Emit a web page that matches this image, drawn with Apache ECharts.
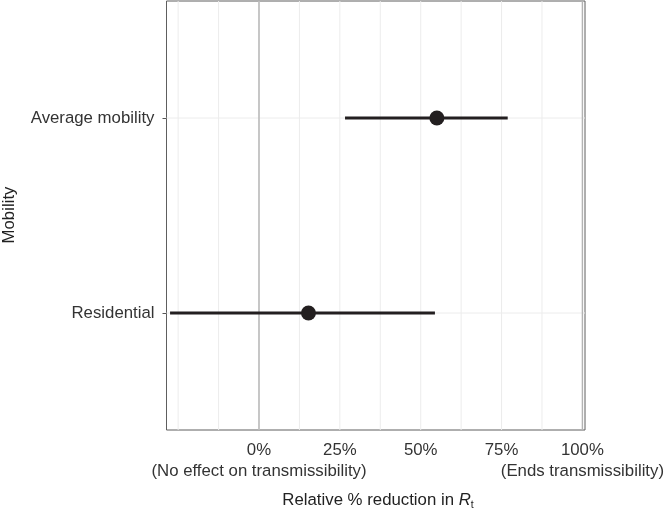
<!DOCTYPE html>
<html>
<head>
<meta charset="utf-8">
<script src="https://cdn.jsdelivr.net/npm/echarts@6/dist/echarts.min.js"></script>
<style>html,body{margin:0;padding:0;background:#fff}#c{width:664px;height:513px}</style>
</head>
<body>
<div id="c"></div>
<script>
const categories = ['Residential', 'Average mobility'];
const estimates = [15.3, 55.0];
const lower = [-27.5, 26.6];
const upper = [54.4, 76.9];
const xTicks = [0, 25, 50, 75, 100];
const xTickLabels = ['0%', '25%', '50%', '75%', '100%'];
const xNoteTicks = [0, 100];
const xNoteLabels = ['(No effect on transmissibility)', '(Ends transmissibility)'];
const gridBreaks = [-25, -12.5, 0, 12.5, 25, 37.5, 50, 62.5, 75, 87.5, 100];
const refLines = [0, 100];

const FONT = '"Liberation Sans", Arial, Helvetica, sans-serif';
const FS = 16.8;
const yPos = categories.map((c, i) => i + 1);

const chart = echarts.init(document.getElementById('c'), null, {renderer: 'canvas'});

function vline(color, width) {
  return function (params, api) {
    const cs = params.coordSys;
    const x = api.coord([api.value(0), 1])[0];
    return {type: 'line', shape: {x1: x, y1: cs.y, x2: x, y2: cs.y + cs.height},
            style: {stroke: color, lineWidth: width}, silent: true};
  };
}

function xAxisDef(values, labels, margin) {
  return {
    type: 'value', min: -28.6, max: 100.8, position: 'bottom',
    axisLine: {show: false, onZero: false}, axisTick: {show: false}, splitLine: {show: false},
    axisLabel: {
      customValues: values, showMinLabel: true, showMaxLabel: true, hideOverlap: false,
      formatter: v => labels[values.indexOf(v)] || '',
      fontFamily: FONT, fontSize: FS, color: '#333', margin: margin
    }
  };
}

const option = {
  animation: false,
  backgroundColor: '#fff',
  grid: {left: 166.5, right: 79, top: 1, bottom: 83, show: true, borderColor: '#5e5e5e', borderWidth: 1,
         containLabel: false, outerBoundsMode: 'none'},
  xAxis: [xAxisDef(xTicks, xTickLabels, 12), xAxisDef(xNoteTicks, xNoteLabels, 33)],
  yAxis: {
    type: 'value', min: 0.4, max: 2.6,
    axisLine: {show: false, onZero: false}, splitLine: {show: false},
    axisTick: {show: true, customValues: yPos, length: 4, lineStyle: {color: '#555'}},
    axisLabel: {
      customValues: yPos, showMinLabel: true, showMaxLabel: true,
      formatter: v => categories[Math.round(v) - 1] || '',
      fontFamily: FONT, fontSize: FS, color: '#333', margin: 12
    }
  },
  graphic: [
    {type: 'text', x: 378, y: 500, silent: true,
     style: {
       text: 'Relative % reduction in {r|R}{t|t}',
       font: FS + 'px ' + FONT, fill: '#222', align: 'center', verticalAlign: 'middle',
       rich: {r: {fontStyle: 'italic', fontSize: FS, fontFamily: FONT, fill: '#222', lineHeight: 22},
              t: {fontSize: 10.5, fontFamily: FONT, fill: '#222', lineHeight: 11, verticalAlign: 'bottom'}}
     }},
    {type: 'text', x: 9, y: 215, rotation: Math.PI / 2, silent: true,
     style: {text: 'Mobility', font: FS + 'px ' + FONT, fill: '#222', align: 'center', verticalAlign: 'middle'}}
  ],
  series: [
    {type: 'custom', z: 1, silent: true, renderItem: vline('#ececec', 1),
     data: gridBreaks.map(v => [v, 1]), encode: {x: 0, y: 1}},
    {type: 'custom', z: 1, silent: true,
     renderItem: function (params, api) {
       const cs = params.coordSys;
       const y = api.coord([0, api.value(1)])[1];
       return {type: 'line', shape: {x1: cs.x, y1: y, x2: cs.x + cs.width, y2: y},
               style: {stroke: '#ececec', lineWidth: 1}, silent: true};
     },
     data: yPos.map(v => [0, v]), encode: {x: 0, y: 1}},
    {type: 'custom', z: 2, silent: true, renderItem: vline('#b3b3b3', 1.4),
     data: refLines.map(v => [v, 1]), encode: {x: 0, y: 1}},
    {type: 'custom', z: 3, silent: true,
     renderItem: function (params, api) {
       const p1 = api.coord([api.value(0), api.value(2)]);
       const p2 = api.coord([api.value(1), api.value(2)]);
       return {type: 'line', shape: {x1: p1[0], y1: p1[1], x2: p2[0], y2: p2[1]},
               style: {stroke: '#231f20', lineWidth: 2.8}};
     },
     data: yPos.map((y, i) => [lower[i], upper[i], y]), encode: {x: [0, 1], y: 2}},
    {type: 'scatter', z: 4, silent: true, symbol: 'circle', symbolSize: 15,
     itemStyle: {color: '#231f20', opacity: 1},
     data: yPos.map((y, i) => [estimates[i], y])}
  ]
};
chart.setOption(option);
</script>
</body>
</html>
